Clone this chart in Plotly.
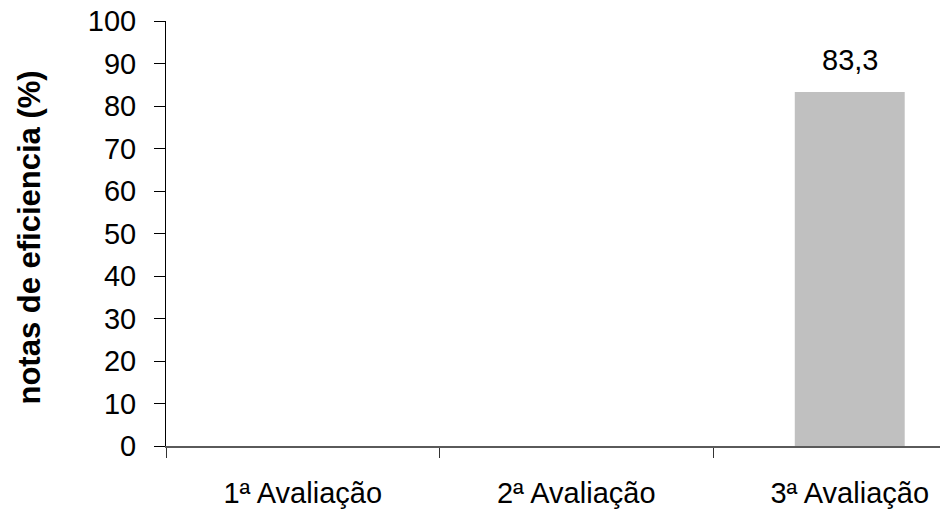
import plotly.graph_objects as go

categories = ["1ª Avaliação", "2ª Avaliação", "3ª Avaliação"]
values = [None, None, 83.3]
value_labels = ["", "", "83,3"]
y_ticks = [0, 10, 20, 30, 40, 50, 60, 70, 80, 90, 100]
y_title = "notas de eficiencia (%)"

FONT = "Liberation Sans, Arial, sans-serif"

fig = go.Figure()
fig.add_trace(go.Bar(
    x=categories, y=values, width=0.402,
    marker=dict(color="#C0C0C0", line=dict(width=0)),
))

for c, v, t in zip(categories, values, value_labels):
    if v is not None and t:
        fig.add_annotation(x=c, y=v, text=t, showarrow=False, yanchor="bottom",
                           yshift=14, font=dict(family=FONT, size=29, color="#000"))

fig.add_annotation(xref="paper", yref="paper", x=-0.176, y=0.49, text="<b>" + y_title + "</b>",
                   textangle=-90, showarrow=False, xanchor="center", yanchor="middle",
                   font=dict(family=FONT, size=31, color="#000"))

fig.update_layout(
    width=940, height=509,
    margin=dict(l=166, r=0, t=21, b=63, autoexpand=False),
    paper_bgcolor="white", plot_bgcolor="white",
    showlegend=False,
    font=dict(family=FONT, color="#000"),
    xaxis=dict(
        type="category", range=[-0.5, 2.33], automargin=False,
        showline=True, linecolor="#5a5a5a", linewidth=2,
        ticks="outside", tickson="boundaries", ticklen=10, tickwidth=1, tickcolor="#333",
        tickfont=dict(family=FONT, size=29, color="#000"),
        ticklabelstandoff=20, ticklabeloverflow="allow",
        showgrid=False, zeroline=False,
    ),
    yaxis=dict(
        range=[0, 100], tickvals=y_ticks, automargin=False,
        showline=True, linecolor="#000", linewidth=1,
        ticks="outside", ticklen=11, tickwidth=1, tickcolor="#000",
        tickfont=dict(family=FONT, size=29, color="#000"),
        ticklabelstandoff=12, ticklabeloverflow="allow",
        showgrid=False, zeroline=False,
    ),
)

fig.write_html("out.html", config={"displayModeBar": False},
               post_script="document.body.style.margin='0';document.body.style.overflow='hidden';")
